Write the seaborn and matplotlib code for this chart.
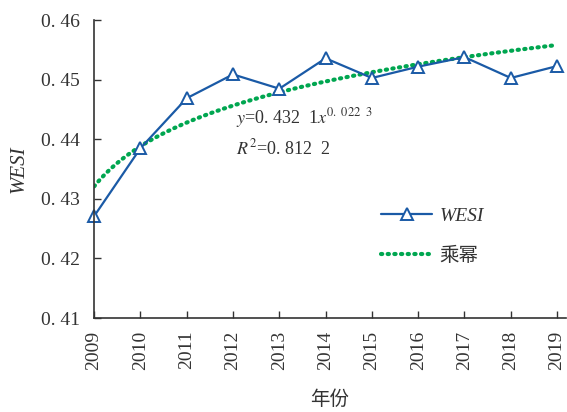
import numpy as np
import pandas as pd
import seaborn as sns
import matplotlib.pyplot as plt

years = [2009, 2010, 2011, 2012, 2013, 2014, 2015, 2016, 2017, 2018, 2019]
wesi = [0.4271, 0.4385, 0.4469, 0.4509, 0.4485, 0.4536, 0.4503, 0.4522, 0.4538, 0.4503, 0.4523]
# power-law trend as printed on the chart: y = a * x^b
fit_a = 0.4321
fit_b = 0.0223
y_ticks = [0.41, 0.42, 0.43, 0.44, 0.45, 0.46]
y_tick_labels = ['0. 41', '0. 42', '0. 43', '0. 44', '0. 45', '0. 46']

sns.set_style('ticks')
plt.rcParams['font.family'] = ['Liberation Serif', 'Noto Sans CJK SC']
plt.rcParams['mathtext.fontset'] = 'stix'

fig = plt.figure(figsize=(5.67, 4.12), dpi=100)
ax = fig.add_axes([0.166, 0.228, 0.832, 0.723])

df = pd.DataFrame({'year': years, 'wesi': wesi})
idx = np.linspace(1, len(years), 200)
trend = pd.DataFrame({'year': years[0] - 1 + idx, 'fit': fit_a * idx ** fit_b})

blue = '#1a5aa6'
green = '#00a650'
ink = '#333333'
sns.lineplot(data=trend, x='year', y='fit', ax=ax, color=green, lw=3,
             linestyle=(0, (0.3, 1.3)), dash_capstyle='round', label='乘幂')
sns.lineplot(data=df, x='year', y='wesi', ax=ax, color=blue, lw=1.6,
             marker='^', markersize=9, markerfacecolor='white',
             markeredgecolor=blue, markeredgewidth=1.4, label='WESI', clip_on=False)

ax.set_xlim(2009, 2019.19)
ax.set_ylim(0.41, 0.46)
ax.set_xticks(years)
ax.set_xticklabels([str(y) for y in years], rotation=90, fontsize=14)
ax.set_yticks(y_ticks)
ax.set_yticklabels(y_tick_labels, fontsize=14)
ax.tick_params(direction='in', length=5, width=1, colors=ink, labelcolor=ink)
ax.tick_params(axis='x', pad=9)
ax.tick_params(axis='y', pad=10)
sns.despine(ax=ax)
for s in ['left', 'bottom']:
    ax.spines[s].set_color(ink)
    ax.spines[s].set_linewidth(1.2)

ax.set_xlabel('年份', fontsize=14, family=['Noto Sans CJK SC'], labelpad=14, color=ink)
ax.set_ylabel('WESI', fontsize=15, style='italic', labelpad=9, color=ink)

ax.text(2012.07, 0.4436, r'$y$=0. 432  1$x^{0.\ 022\ \ 3}$', fontsize=13, color=ink, va='center')
ax.text(2012.07, 0.4385, r'$R^2$=0. 812  2', fontsize=13, color=ink, va='center')

handles, labels = ax.get_legend_handles_labels()
leg = ax.legend(handles[::-1], labels[::-1], loc='upper left', bbox_to_anchor=(0.572, 0.43),
                frameon=False, fontsize=14, handlelength=2.6, labelspacing=1.0, handletextpad=0.4)
for t in leg.get_texts():
    if t.get_text() == 'WESI':
        t.set_style('italic')
    else:
        t.set_family(['Noto Sans CJK SC'])
    t.set_color(ink)

fig.savefig('out.png', dpi=100)
